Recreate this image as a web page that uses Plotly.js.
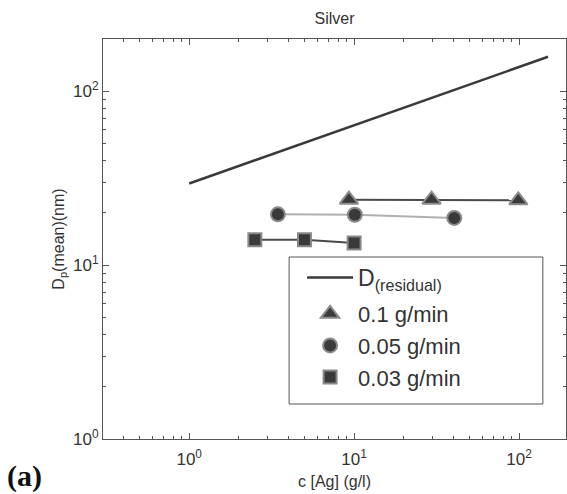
<!DOCTYPE html>
<html>
<head>
<meta charset="utf-8">
<script src="https://cdn.plot.ly/plotly-3.0.1.min.js"></script>
<style>html,body{margin:0;padding:0;background:#fff;}#chart{width:567px;height:494px;}</style>
</head>
<body>
<div id="chart"></div>
<script>
// Data
const residualX = [1, 10, 100, 150];
const residualY = [29.5, 63.5, 138, 158];

const rate01X = [9.3, 29.5, 99];
const rate01Y = [23.8, 23.8, 23.6];

const rate005X = [3.45, 10.1, 40.5];
const rate005Y = [19.6, 19.5, 18.7];

const rate003X = [2.5, 5.0, 10.0];
const rate003Y = [14.0, 14.0, 13.4];

const seriesNames = ['D<sub>(residual)</sub>', '0.1 g/min', '0.05 g/min', '0.03 g/min'];

const majorTickVals = [1, 10, 100];
const tickText = ['10<sup>0</sup>', '10<sup>1</sup>', '10<sup>2</sup>'];
const xMinorVals = [0.4,0.5,0.6,0.7,0.8,0.9,2,3,4,5,6,7,8,9,20,30,40,50,60,70,80,90];
const yMinorVals = [2,3,4,5,6,7,8,9,20,30,40,50,60,70,80,90];

const FONT = 'Liberation Sans, Arial, Helvetica, sans-serif';
const TXT = '#333';
const AX = '#555';
const XRANGE = [Math.log10(0.3), 2.285];
const YRANGE = [0, Math.log10(200)];

function markerTrace(x, y, symbol, size, name) {
  return {
    x: x, y: y, type: 'scatter', mode: 'markers', name: name,
    marker: {symbol: symbol, size: size, color: '#3a3a3a', line: {color: '#8a8a8a', width: 2}},
    showlegend: true, legend: 'legend'
  };
}
function lineTrace(x, y, color) {
  return {x: x, y: y, type: 'scatter', mode: 'lines', line: {color: color, width: 2},
          showlegend: false, hoverinfo: 'skip'};
}

const traces = [
  {x: residualX, y: residualY, type: 'scatter', mode: 'lines', name: seriesNames[0],
   line: {color: '#3a3a3a', width: 2.5}, legend: 'legend2'},
  lineTrace(rate01X, rate01Y, '#4a4a4a'),
  lineTrace(rate005X, rate005Y, '#b0b0b0'),
  lineTrace(rate003X, rate003Y, '#4a4a4a'),
  markerTrace(rate01X, rate01Y, 'triangle-up', 16, seriesNames[1]),
  markerTrace(rate005X, rate005Y, 'circle', 14, seriesNames[2]),
  markerTrace(rate003X, rate003Y, 'square', 13, seriesNames[3]),
  // invisible trace that activates the overlay axes carrying the minor ticks
  {x: [1], y: [10], xaxis: 'x2', yaxis: 'y2', type: 'scatter', mode: 'markers',
   marker: {opacity: 0}, showlegend: false, hoverinfo: 'skip'}
];

const axisCommon = {
  type: 'log', showgrid: false, zeroline: false,
  showline: true, linecolor: AX, linewidth: 1, mirror: 'ticks',
  ticks: 'inside', ticklen: 6, tickcolor: AX, tickwidth: 1,
  tickmode: 'array', tickvals: majorTickVals, ticktext: tickText,
  tickfont: {family: FONT, size: 17, color: TXT}
};
const minorCommon = {
  type: 'log', showgrid: false, zeroline: false,
  showline: false, mirror: 'ticks',
  ticks: 'inside', ticklen: 3, tickcolor: AX, tickwidth: 1,
  tickmode: 'array', showticklabels: false
};

const layout = {
  width: 567, height: 494,
  margin: {l: 103, r: 1, t: 39, b: 55, pad: 0},
  paper_bgcolor: '#fff', plot_bgcolor: '#fff',
  font: {family: FONT, color: TXT},
  title: {text: 'Silver', font: {family: FONT, size: 16, color: TXT},
          x: 0.5, xref: 'paper', xanchor: 'center', y: 0.963, yref: 'container', yanchor: 'middle'},
  xaxis: Object.assign({}, axisCommon, {
    range: XRANGE, ticklabelstandoff: 5,
    title: {text: 'c [Ag] (g/l)', font: {family: FONT, size: 16, color: TXT}, standoff: 7}
  }),
  yaxis: Object.assign({}, axisCommon, {
    range: YRANGE,
    title: {text: 'D<sub>p</sub>(mean)(nm)', font: {family: FONT, size: 16, color: TXT}, standoff: 4}
  }),
  xaxis2: Object.assign({}, minorCommon, {range: XRANGE, overlaying: 'x', anchor: 'y2', side: 'bottom', tickvals: xMinorVals}),
  yaxis2: Object.assign({}, minorCommon, {range: YRANGE, overlaying: 'y', anchor: 'x2', side: 'left', tickvals: yMinorVals}),
  showlegend: true,
  legend: {
    x: 0.43, y: 0.365, xanchor: 'left', yanchor: 'top',
    bgcolor: 'rgba(0,0,0,0)', borderwidth: 0,
    font: {family: FONT, size: 22, color: TXT},
    itemwidth: 46
  },
  legend2: {
    x: 0.43, y: 0.4575, xanchor: 'left', yanchor: 'top',
    bgcolor: 'rgba(0,0,0,0)', borderwidth: 0,
    font: {family: FONT, size: 23, color: TXT},
    itemwidth: 46
  },
  shapes: [{
    type: 'rect', xref: 'paper', yref: 'paper', x0: 0.402, x1: 0.950, y0: 0.0875, y1: 0.455,
    line: {color: '#555', width: 1}, fillcolor: '#fff', layer: 'below'
  }],
  annotations: [{
    text: '<b>(a)</b>', xref: 'paper', yref: 'paper', x: -0.212, y: -0.093,
    xanchor: 'left', yanchor: 'middle', showarrow: false,
    font: {family: 'Liberation Serif, Times New Roman, serif', size: 30, color: '#111'}
  }]
};

Plotly.newPlot('chart', traces, layout, {displayModeBar: false, staticPlot: true});
</script>
</body>
</html>
